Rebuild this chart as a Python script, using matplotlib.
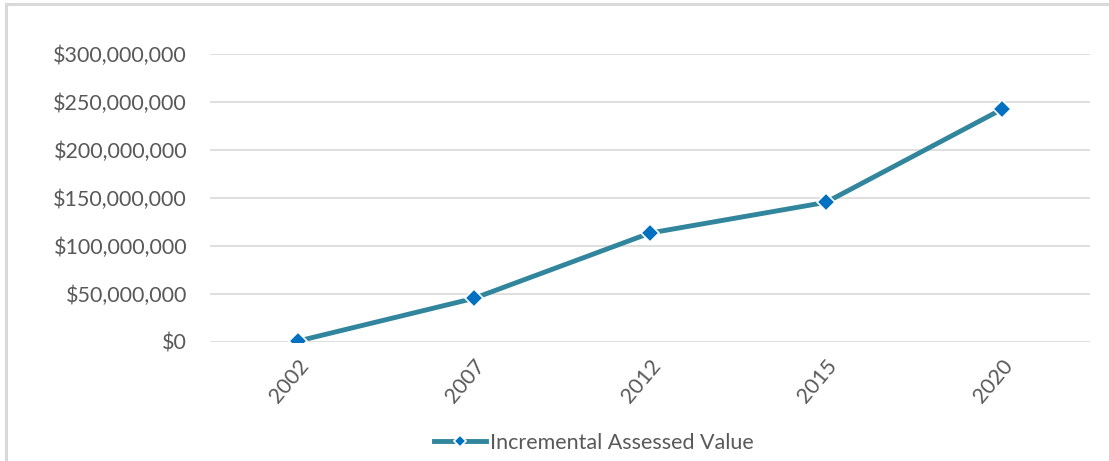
import matplotlib
matplotlib.use("Agg")
import matplotlib.pyplot as plt
from matplotlib.patches import Rectangle
from matplotlib.ticker import FuncFormatter

years = ["2002", "2007", "2012", "2015", "2020"]
assessed_value = [1_000_000, 45_500_000, 113_500_000, 145_500_000, 242_500_000]
y_ticks = [0, 50_000_000, 100_000_000, 150_000_000, 200_000_000, 250_000_000, 300_000_000]

text_color = "#595959"
plt.rcParams["font.family"] = ["Lato", "DejaVu Sans"]

fig = plt.figure(figsize=(11.09, 4.61), dpi=100)
ax = fig.add_axes([210 / 1109, 119 / 461, 880 / 1109, 288 / 461])

# chart frame, only left and top edges fall inside the image
fig.patches.append(Rectangle((6 / 1109, -0.1), 1.2, (461 - 4) / 461 + 0.1,
                             transform=fig.transFigure, fill=False,
                             edgecolor="#d9d9d9", linewidth=2.2))

x = range(len(years))
ax.plot(x, assessed_value, color="#31859C", linewidth=3.5, marker="D",
        markersize=9.5, markerfacecolor="#0070C0", markeredgecolor="white",
        markeredgewidth=1.2, label="Incremental Assessed Value", zorder=3)

ax.set_xlim(-0.5, len(years) - 0.5)
ax.set_ylim(0, 300_000_000)
ax.set_yticks(y_ticks)
ax.yaxis.set_major_formatter(FuncFormatter(lambda v, p: f"${v:,.0f}"))
ax.set_xticks(list(x))
ax.set_xticklabels(years, rotation=50, ha="right", rotation_mode="anchor")

ax.grid(axis="y", color="#d9d9d9", linewidth=1.2)
ax.set_axisbelow(True)
for s in ax.spines.values():
    s.set_visible(False)
ax.tick_params(axis="both", length=0, labelsize=15.5, colors=text_color)
ax.tick_params(axis="y", pad=16.5)
ax.tick_params(axis="x", pad=10)

leg = fig.legend(loc="center", bbox_to_anchor=(594 / 1109, 1 - 443 / 461),
                 frameon=False, fontsize=15.5, handlelength=2.4,
                 handletextpad=0.2, markerscale=0.6)
for t in leg.get_texts():
    t.set_color(text_color)

fig.savefig("out.png", dpi=100)
